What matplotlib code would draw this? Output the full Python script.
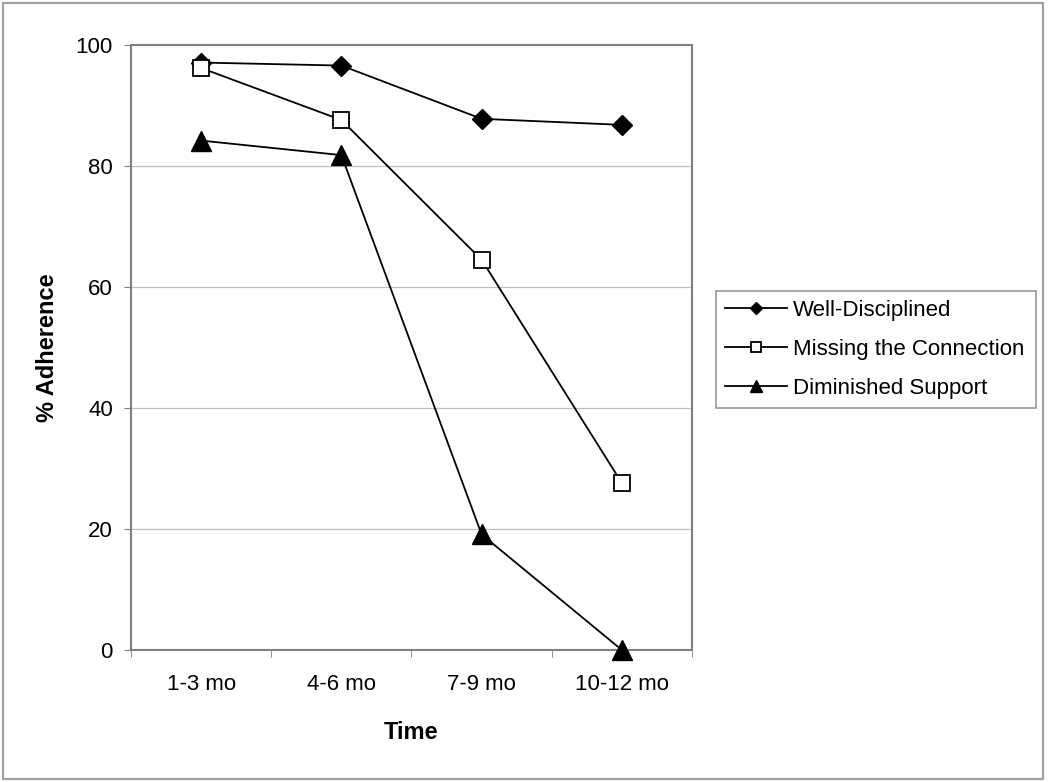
import matplotlib
matplotlib.use("Agg")
import matplotlib.pyplot as plt
from matplotlib.patches import Rectangle

plt.rcParams['font.family'] = ['Liberation Sans', 'DejaVu Sans']

categories = ["1-3 mo", "4-6 mo", "7-9 mo", "10-12 mo"]
well_disciplined = [97.1, 96.6, 87.8, 86.8]
missing_connection = [96.2, 87.6, 64.5, 27.6]
diminished_support = [84.2, 81.8, 19.1, 0.0]
series_names = ["Well-Disciplined", "Missing the Connection", "Diminished Support"]

fig = plt.figure(figsize=(10.5, 7.82), dpi=100)
fig.patches.append(Rectangle((0.003, 0.004), 0.9905, 0.992, transform=fig.transFigure,
                             fill=False, edgecolor='#a0a0a0', linewidth=1.5))

ax = fig.add_axes([131/1050, 132/782, 561/1050, 605/782])
x = list(range(len(categories)))
ax.plot(x, well_disciplined, color='black', lw=1.3, marker='D', ms=10,
        mfc='black', mec='black', label=series_names[0], clip_on=False, zorder=3)
ax.plot(x, missing_connection, color='black', lw=1.3, marker='s', ms=12,
        mfc='white', mec='black', mew=1.3, label=series_names[1], clip_on=False, zorder=4)
ax.plot(x, diminished_support, color='black', lw=1.3, marker='^', ms=14,
        mfc='black', mec='black', label=series_names[2], clip_on=False, zorder=5)

ax.set_xlim(-0.5, len(categories) - 0.5)
ax.set_ylim(0, 100)
ax.set_yticks([0, 20, 40, 60, 80, 100])
ax.set_xticks(x)
ax.set_xticklabels(categories)
ax.set_xticks([-0.5, 0.5, 1.5, 2.5, 3.5], minor=True)
ax.tick_params(axis='x', which='major', length=0, pad=17, labelsize=16)
ax.tick_params(axis='x', which='minor', length=5, color='#808080', direction='out')
ax.tick_params(axis='y', length=5, color='#808080', direction='out', labelsize=16, pad=8)
ax.grid(axis='y', color='#c0c0c0', lw=0.9)
ax.set_axisbelow(True)
for s in ax.spines.values():
    s.set_color('#808080')
    s.set_linewidth(1.5)

ax.set_xlabel("Time", fontsize=17, fontweight='bold', labelpad=19)
ax.set_ylabel("% Adherence", fontsize=17, fontweight='bold', labelpad=12)

leg = fig.legend(loc='lower left', bbox_to_anchor=(716/1050, 374/782, 320/1050, 121/782),
                 mode='expand', borderaxespad=0, frameon=True, fancybox=False, fontsize=16,
                 handlelength=2.8, borderpad=0.4, labelspacing=0.82, handletextpad=0.25,
                 markerscale=0.65)
leg.get_frame().set_edgecolor('#808080')
leg.get_frame().set_linewidth(1.2)

fig.savefig("out.png", dpi=100)
